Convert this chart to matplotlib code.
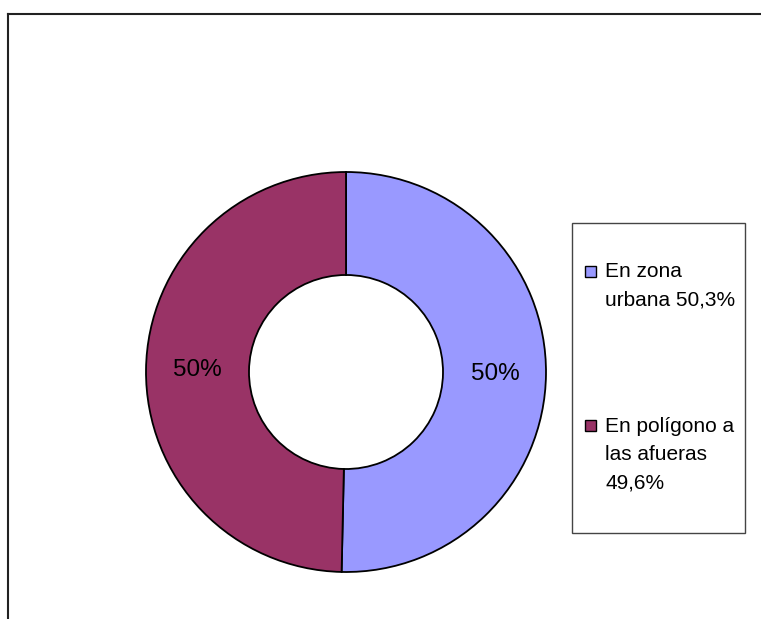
import matplotlib.pyplot as plt
from matplotlib.patches import Rectangle
from matplotlib.lines import Line2D

plt.rcParams['font.family'] = ['Liberation Sans', 'DejaVu Sans']

# datos
labels = ['En zona\nurbana 50,3%', 'En polígono a\nlas afueras\n49,6%']
values = [50.3, 49.6]
colors = ['#9999FF', '#993366']

W, H = 761, 619
fig = plt.figure(figsize=(W / 100, H / 100), dpi=100)

def fx(px):
    return px / W

def fy(py):
    return 1 - py / H

# marco del gráfico (solo arriba e izquierda visibles)
fig.add_artist(Line2D([fx(8), 1.0], [fy(14), fy(14)], color='#222222', lw=1.5))
fig.add_artist(Line2D([fx(8), fx(8)], [fy(14), 0.0], color='#222222', lw=1.5))

# anillo
cx, cy, r = 346, 372, 200
ax = fig.add_axes([fx(cx - r), fy(cy + r), 2 * r / W, 2 * r / H])
ax.pie(values, colors=colors, startangle=90, counterclock=False, radius=1,
       autopct='%.0f%%', pctdistance=0.745,
       wedgeprops=dict(width=0.515, edgecolor='black', linewidth=1.3),
       textprops=dict(fontsize=17.5, color='black'))
ax.set_xlim(-1, 1)
ax.set_ylim(-1, 1)
ax.set_aspect('equal')
ax.axis('off')

# leyenda
fig.add_artist(Rectangle((fx(572), fy(533)), fx(745) - fx(572), fy(223) - fy(533),
                         transform=fig.transFigure, fill=False,
                         edgecolor='#444444', lw=1.0))
first_baselines = [277, 431.5]
line_step = 28.7
for lab, col, b0 in zip(labels, colors, first_baselines):
    fig.add_artist(Rectangle((fx(585), fy(b0 - 0.5)), 11 / W, 11 / H,
                             transform=fig.transFigure, facecolor=col,
                             edgecolor='black', lw=1.0))
    for j, line in enumerate(lab.split('\n')):
        fig.text(fx(605), fy(b0 + j * line_step), line, fontsize=15,
                 ha='left', va='baseline')

fig.savefig('out.png', dpi=100)
